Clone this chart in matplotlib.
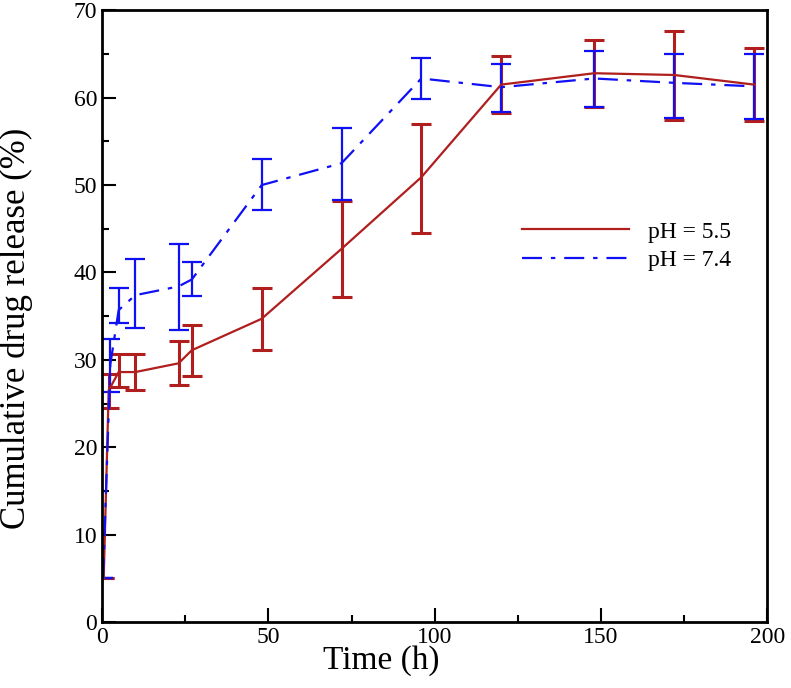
import matplotlib
matplotlib.use("Agg")
import matplotlib.pyplot as plt
from matplotlib.ticker import MultipleLocator
import numpy as np

plt.rcParams['font.family'] = ['Liberation Serif', 'DejaVu Serif']
plt.rcParams['mathtext.fontset'] = 'stix'

# pH 5.5 series
t_55 = [0.5, 2, 5, 10, 23, 27, 48, 72, 96, 120, 148, 172, 196]
y_55 = [5.0, 26.5, 28.6, 28.6, 29.6, 31.1, 34.7, 42.7, 50.9, 61.5, 62.8, 62.6, 61.5]
lo_55 = [5.0, 24.5, 26.9, 26.5, 27.1, 28.1, 31.1, 37.2, 44.5, 58.2, 58.9, 57.5, 57.3]
hi_55 = [5.0, 28.4, 30.7, 30.7, 32.2, 34.0, 38.2, 48.2, 57.0, 64.8, 66.6, 67.6, 65.7]

# pH 7.4 series
t_74 = [0.3, 2.5, 5, 10, 23, 27, 48, 72, 96, 120, 148, 172, 196]
y_74 = [5.0, 29.5, 35.7, 37.4, 38.4, 39.2, 50.0, 52.5, 62.2, 61.2, 62.2, 61.7, 61.3]
lo_74 = [5.0, 26.3, 34.2, 33.6, 33.4, 37.3, 47.1, 48.3, 59.9, 58.4, 58.9, 57.7, 57.6]
hi_74 = [5.0, 32.4, 38.2, 41.5, 43.3, 41.2, 53.0, 56.5, 64.5, 63.8, 65.3, 65.0, 65.0]

red = '#B01E1E'
blue = '#1010F5'

fig = plt.figure(figsize=(7.91, 6.88), dpi=100)
ax = fig.add_axes([0.129, 0.096, 0.841, 0.889])

y55 = np.array(y_55); y74 = np.array(y_74)
err55 = [y55 - np.array(lo_55), np.array(hi_55) - y55]
err74 = [y74 - np.array(lo_74), np.array(hi_74) - y74]

ax.errorbar(t_55, y_55, yerr=err55, color=red, lw=1.6, elinewidth=2.2,
            capsize=7, capthick=2.2, label='pH = 5.5')
ax.errorbar(t_74, y_74, yerr=err74, color=blue, lw=1.6, elinewidth=1.6,
            capsize=7, capthick=1.6, ls=(0, (9, 4, 2, 4)), label='pH = 7.4')

ax.set_xlim(0, 200)
ax.set_ylim(0, 70)
ax.xaxis.set_major_locator(MultipleLocator(50))
ax.xaxis.set_minor_locator(MultipleLocator(25))
ax.yaxis.set_major_locator(MultipleLocator(10))
ax.yaxis.set_minor_locator(MultipleLocator(5))
ax.tick_params(which='both', direction='in', top=False, right=False, labelsize=17, width=1.5)
ax.tick_params(which='major', length=10)
ax.tick_params(which='minor', length=5)
for s in ax.spines.values():
    s.set_linewidth(2)

ax.set_xlabel('Time (h)', fontsize=24)
ax.xaxis.set_label_coords(0.42, -0.038, transform=ax.transAxes)
ax.xaxis.label.set_va('top')
ax.set_ylabel('Cumulative drug release (%)', fontsize=25)
ax.yaxis.set_label_coords(-0.104, 0.48, transform=ax.transAxes)

h, l = ax.get_legend_handles_labels()
h = [hh[0] for hh in h]
ax.legend(h, l, loc='upper left', bbox_to_anchor=(0.6, 0.69), frameon=False,
          fontsize=17, handlelength=4.5, handletextpad=0.8, labelspacing=0.3)

fig.savefig('out.png', dpi=100)
